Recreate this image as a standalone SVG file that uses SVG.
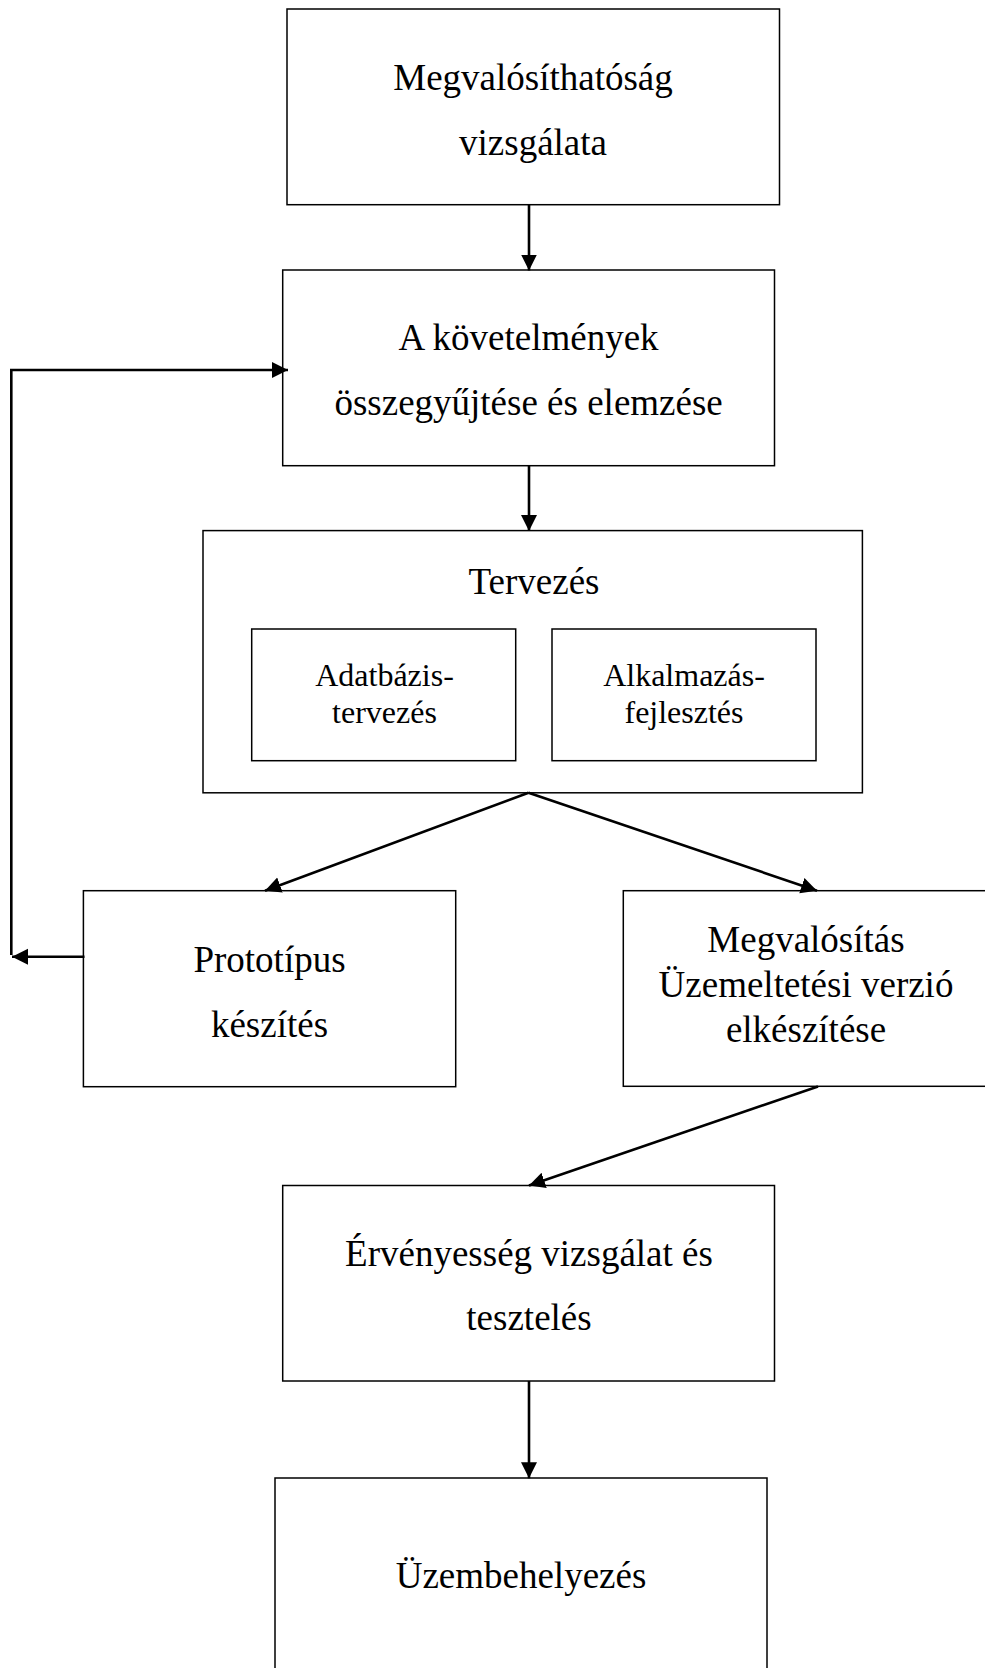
<svg xmlns="http://www.w3.org/2000/svg" width="985" height="1668" viewBox="0 0 985 1668">
  <style>
    .box { fill: #ffffff; stroke: #000000; stroke-width: 1.5; }
    .lbl { font-family: "Liberation Serif", "Times New Roman", serif; font-size: 37px; fill: #000000; text-anchor: middle; }
    .sub { font-family: "Liberation Serif", "Times New Roman", serif; font-size: 32px; fill: #000000; text-anchor: middle; }
    .conn { fill: none; stroke: #000000; stroke-width: 2.6; }
  </style>
  <defs>
    <marker id="arr" markerUnits="userSpaceOnUse" markerWidth="17" markerHeight="17" viewBox="0 0 17 17" refX="16" refY="8" orient="auto">
      <path d="M0,0 L16,8 L0,16 z" fill="#000000"/>
    </marker>
  </defs>
  <rect width="985" height="1668" fill="#ffffff"/>

  <g id="n-megvalosithatosag">
    <rect class="box" x="287" y="9" width="492.5" height="195.7"/>
    <text class="lbl" x="533" y="90">Megvalósíthatóság</text>
    <text class="lbl" x="533" y="155">vizsgálata</text>
  </g>

  <g id="n-kovetelmenyek">
    <rect class="box" x="282.7" y="270" width="491.8" height="195.7"/>
    <text class="lbl" x="528.6" y="350">A követelmények</text>
    <text class="lbl" x="528.6" y="415">összegyűjtése és elemzése</text>
  </g>

  <g id="n-tervezes">
    <rect class="box" x="203" y="530.6" width="659.4" height="262.2"/>
    <text class="lbl" x="534" y="594">Tervezés</text>
  </g>

  <g id="n-adatbazis">
    <rect class="box" x="251.7" y="629" width="264" height="131.7"/>
    <text class="sub" x="384.5" y="686">Adatbázis-</text>
    <text class="sub" x="384.5" y="723">tervezés</text>
  </g>

  <g id="n-alkalmazas">
    <rect class="box" x="552" y="629" width="264" height="131.7"/>
    <text class="sub" x="684" y="686">Alkalmazás-</text>
    <text class="sub" x="684" y="723">fejlesztés</text>
  </g>

  <g id="n-prototipus">
    <rect class="box" x="83.4" y="890.7" width="372.3" height="196"/>
    <text class="lbl" x="269.5" y="972">Prototípus</text>
    <text class="lbl" x="269.5" y="1037">készítés</text>
  </g>

  <g id="n-megvalositas">
    <rect class="box" x="623.3" y="890.7" width="366" height="195.6"/>
    <text class="lbl" x="806" y="952">Megvalósítás</text>
    <text class="lbl" x="806" y="997">Üzemeltetési verzió</text>
    <text class="lbl" x="806" y="1042">elkészítése</text>
  </g>

  <g id="n-ervenyesseg">
    <rect class="box" x="282.7" y="1185.5" width="491.8" height="195.5"/>
    <text class="lbl" x="529" y="1266">Érvényesség vizsgálat és</text>
    <text class="lbl" x="529" y="1329.5">tesztelés</text>
  </g>

  <g id="n-uzembehelyezes">
    <rect class="box" x="275" y="1478" width="492" height="200"/>
    <text class="lbl" x="521" y="1588">Üzembehelyezés</text>
  </g>

  <g id="connectors">
    <line class="conn" x1="529" y1="204.7" x2="529" y2="270.5" marker-end="url(#arr)"/>
    <line class="conn" x1="529" y1="465.7" x2="529" y2="531" marker-end="url(#arr)"/>
    <line class="conn" x1="528.5" y1="792.7" x2="265" y2="890.7" marker-end="url(#arr)"/>
    <line class="conn" x1="528.5" y1="792.7" x2="817" y2="890.7" marker-end="url(#arr)"/>
    <line class="conn" x1="818" y1="1086.4" x2="529" y2="1185.5" marker-end="url(#arr)"/>
    <line class="conn" x1="529" y1="1381" x2="529" y2="1478.3" marker-end="url(#arr)"/>
    <line class="conn" x1="84.5" y1="956.7" x2="12" y2="956.7" marker-end="url(#arr)"/>
    <polyline class="conn" points="11.3,955 11.3,370 288,370" marker-end="url(#arr)"/>
  </g>
</svg>
